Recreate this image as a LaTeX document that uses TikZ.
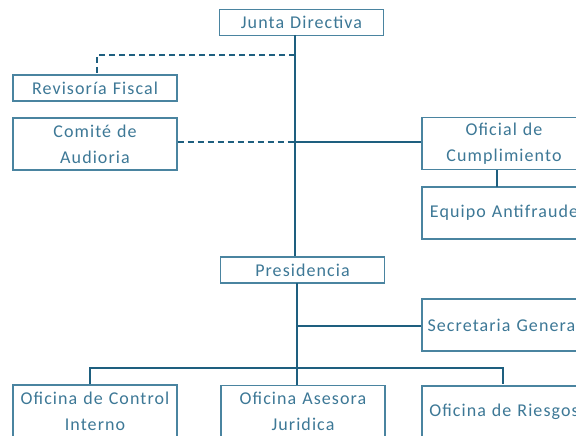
\documentclass[tikz,border=0pt]{standalone}
\usepackage{fontspec}
\setmainfont[LetterSpace=6]{Carlito}
\usetikzlibrary{calc}
\definecolor{txtc}{HTML}{3D7896}
\definecolor{linec}{HTML}{1E5F7F}
\definecolor{boxc}{HTML}{4A84A0}
\tikzset{
  box/.style={draw=boxc, line width=1.3pt, rectangle, minimum width=164pt, text width=164pt, align=center, inner sep=0pt, text=txtc, font=\fontsize{18}{26}\selectfont},
  sbox/.style={box, minimum height=26pt},
  tbox/.style={box, minimum height=52pt},
  conn/.style={draw=linec, line width=2pt},
  dconn/.style={conn, dash pattern=on 6pt off 4pt},
}
\begin{document}
\begin{tikzpicture}[x=1pt,y=-1pt]
\useasboundingbox (0,0) rectangle (576,436);
\clip (0,0) rectangle (576,436);
\fill[white] (0,0) rectangle (576,436);
% nodes
\node[sbox, minimum width=163pt] (junta) at (301.5,22.5) {Junta Directiva};
\node[sbox] (revisoria) at (95,88) {Revisoría Fiscal};
\node[tbox] (comite) at (95,144) {Comité de\\Audioria};
\node[tbox] (oficial) at (504,143.5) {Oficial de\\Cumplimiento};
\node[tbox] (equipo) at (504,213) {Equipo Antifraude};
\node[sbox] (presid) at (302.5,270) {Presidencia};
\node[tbox] (secret) at (504,325) {Secretaria General};
\node[tbox] (control) at (95,411) {Oficina de Control\\Interno};
\node[tbox] (asesora) at (303,411.5) {Oficina Asesora\\Juridica};
\node[tbox] (riesgos) at (504,412) {Oficina de Riesgos};
% coordinates
\coordinate (jtop) at (295,35);
\coordinate (rvj) at (295,55);
\coordinate (rvc) at (97,55);
\coordinate (cj) at (295,142);
\coordinate (pbot) at (297,283);
\coordinate (sj) at (297,326);
\coordinate (busm) at (297,368);
\coordinate (busl) at (90,368);
\coordinate (busr) at (503,368);
\coordinate (rend) at (503,384);
% connectors
\draw[conn] (jtop) -- (jtop |- presid.north);
\draw[dconn] (rvj) -- (rvc) -- (rvc |- revisoria.north);
\draw[dconn] (comite.east |- cj) -- (cj);
\draw[conn] (cj) -- (cj -| oficial.west);
\draw[conn] (497,170) -- (497,187);
\draw[conn] (pbot) -- (pbot |- asesora.north);
\draw[conn] (sj) -- (sj -| secret.west);
\draw[conn] (busl |- control.north) -- (busl) -- (busr) -- (rend);
\end{tikzpicture}
\end{document}
